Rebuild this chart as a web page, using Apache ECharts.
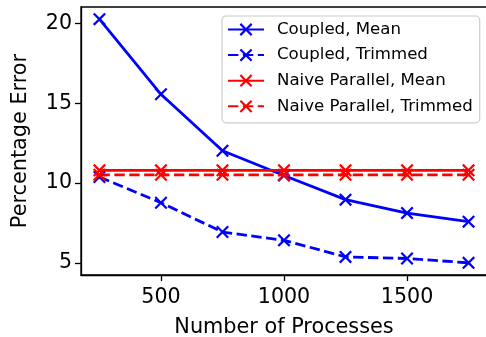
<!DOCTYPE html>
<html>
<head>
<meta charset="utf-8">
<script src="https://cdn.jsdelivr.net/npm/echarts@6/dist/echarts.min.js"></script>
<style>html,body{margin:0;padding:0;background:#fff;}#c{width:486px;height:337px;}</style>
</head>
<body>
<div id="c"></div>
<script>
const processes = [250, 500, 750, 1000, 1250, 1500, 1750];
const coupledMean = [20.28, 15.57, 12.03, 10.48, 8.96, 8.12, 7.58];
const coupledTrimmed = [10.38, 8.77, 6.93, 6.41, 5.37, 5.27, 5.0];
const naiveMean = [10.8, 10.8, 10.8, 10.8, 10.8, 10.8, 10.8];
const naiveTrimmed = [10.52, 10.52, 10.52, 10.52, 10.52, 10.52, 10.52];
const xTicks = [500, 1000, 1500];
const yTicks = [5, 10, 15, 20];

const FONT = 'DejaVu Sans';
const X_PATH = 'path://M0,1.2L1.2,0L5,3.8L8.8,0L10,1.2L6.2,5L10,8.8L8.8,10L5,6.2L1.2,10L0,8.8L3.8,5Z';
const LW = 2.8;
const DASH = [10.4, 4.5];

function pairs(ys) { return processes.map((x, i) => [x, ys[i]]); }
function mkSeries(name, ys, color, dashed) {
  return {
    name: name, type: 'line', data: pairs(ys),
    symbol: X_PATH, symbolSize: 13,
    itemStyle: { color: color },
    lineStyle: { color: color, width: LW, type: dashed ? DASH : 'solid' },
    emphasis: { disabled: true },
    animation: false
  };
}

const chart = echarts.init(document.getElementById('c'), null, { renderer: 'canvas' });
chart.setOption({
  animation: false,
  grid: { left: 81, top: 7, width: 406, height: 268, outerBoundsMode: 'none', containLabel: false,
          show: true, borderColor: '#000', borderWidth: 1.3, backgroundColor: 'transparent' },
  xAxis: {
    type: 'value', min: 175, max: 1825,
    name: 'Number of Processes', nameLocation: 'middle', nameGap: 42,
    nameTextStyle: { fontFamily: FONT, fontSize: 20.8, color: '#000' },
    axisLine: { show: true, lineStyle: { color: '#000', width: 1.3 } },
    axisTick: { show: true, inside: false, length: 6, lineStyle: { color: '#000', width: 1.3 }, customValues: xTicks },
    axisLabel: { fontFamily: FONT, fontSize: 20.6, color: '#000', margin: 12, customValues: xTicks,
                 formatter: function (v) { return String(v); } },
    splitLine: { show: false }
  },
  yAxis: {
    type: 'value', min: 4.236, max: 21.044,
    name: 'Percentage Error', nameLocation: 'middle', nameGap: 50, nameRotate: 90,
    nameTextStyle: { fontFamily: FONT, fontSize: 20.8, color: '#000' },
    axisLine: { show: true, lineStyle: { color: '#000', width: 1.3 } },
    axisTick: { show: true, inside: false, length: 6, lineStyle: { color: '#000', width: 1.3 }, customValues: yTicks },
    axisLabel: { fontFamily: FONT, fontSize: 20.6, color: '#000', margin: 9, customValues: yTicks,
                 formatter: function (v) { return String(v); } },
    splitLine: { show: false }
  },
  legend: {
    left: 222, top: 16, orient: 'vertical',
    padding: [5, 7, 8, 5],
    itemWidth: 36, itemHeight: 16, itemGap: 8.6,
    borderColor: '#cccccc', borderWidth: 1.2, borderRadius: 4,
    backgroundColor: 'rgba(255,255,255,0.8)',
    textStyle: { fontFamily: FONT, fontSize: 16.6, color: '#000', lineHeight: 16, padding: [0, 0, 0, 8] },
    data: ['Coupled, Mean', 'Coupled, Trimmed', 'Naive Parallel, Mean', 'Naive Parallel, Trimmed']
  },
  series: [
    mkSeries('Coupled, Mean', coupledMean, '#0000ff', false),
    mkSeries('Coupled, Trimmed', coupledTrimmed, '#0000ff', true),
    mkSeries('Naive Parallel, Mean', naiveMean, '#ff0000', false),
    mkSeries('Naive Parallel, Trimmed', naiveTrimmed, '#ff0000', true)
  ]
});
</script>
</body>
</html>
